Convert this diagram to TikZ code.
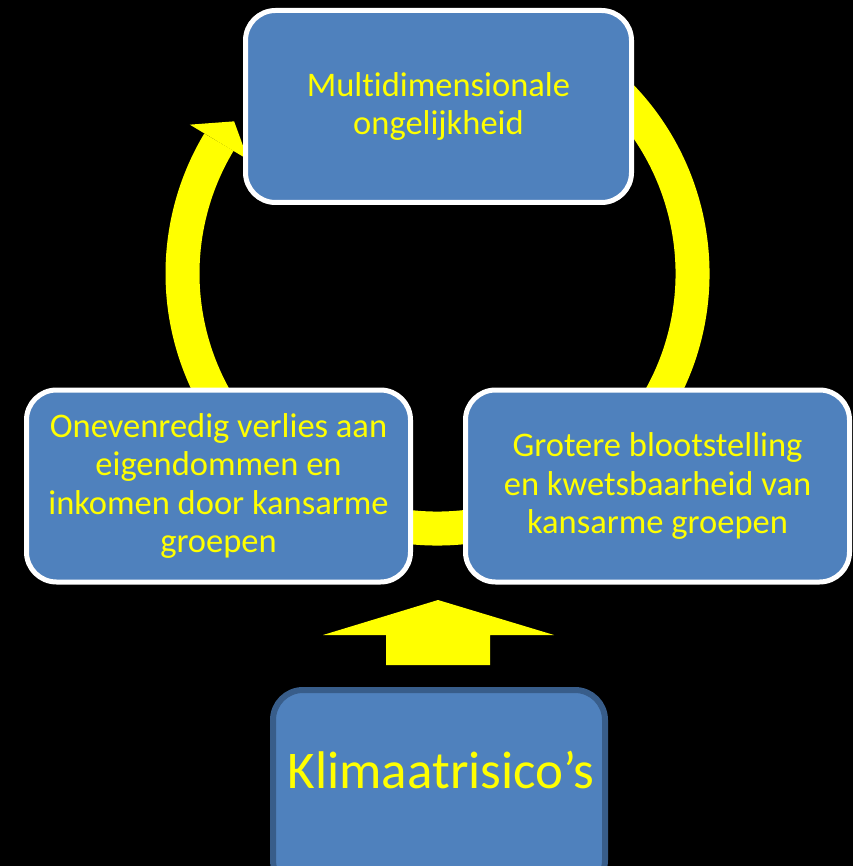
\documentclass[tikz,border=0pt]{standalone}
\usepackage{fontspec}
\setmainfont{Carlito}[Ligatures={NoCommon,NoContextual}]
\usetikzlibrary{calc}
\definecolor{boxblue}{HTML}{4F81BD}
\definecolor{boxedge}{HTML}{385D8A}
\definecolor{ylw}{HTML}{FFFF00}
\begin{document}
\begin{tikzpicture}[x=1pt,y=-1pt,
  cyclebox/.style={draw=white, line width=5pt, fill=boxblue, rounded corners=30pt,
    text=ylw, align=center, font=\fontsize{34.5}{38.3}\selectfont, inner sep=0pt},
  riskbox/.style={draw=boxedge, line width=6pt, fill=boxblue, rounded corners=30pt},
  ringline/.style={draw=ylw, line width=34pt},
  arrowfill/.style={fill=ylw}]
\useasboundingbox (0,0) rectangle (853,866);
\fill[black] (0,0) rectangle (853,866);
\clip (0,0) rectangle (853,866);
\coordinate (c) at (437.5,273.5);
% cycle ring
\draw[ringline] ($(c)+(-420:255)$) arc[start angle=420, end angle=149, radius=255pt];
\fill[arrowfill] ($(c)+(-149:289)$) -- ($(c)+(-143.2:254)$) -- ($(c)+(-149:221)$) -- cycle;
% boxes
\node[cyclebox, minimum width=386pt, minimum height=192pt] (top) at (438.5,106.5)
  {Multidimensionale\\ongelijkheid};
\node[cyclebox, minimum width=384pt, minimum height=192pt] (left) at (218.5,486)
  {Onevenredig verlies aan\\eigendommen en\\inkomen door kansarme\\groepen};
\node[cyclebox, minimum width=384pt, minimum height=192pt] (right) at (657.5,486)
  {Grotere blootstelling\\en kwetsbaarheid van\\kansarme groepen};
% bottom block arrow
\fill[arrowfill] (438,600) -- (554,635) -- (490,635) -- (490,665) -- (386,665) -- (386,635) -- (323,635) -- cycle;
% bottom box
\node[riskbox, minimum width=332pt, minimum height=200pt] (risk) at (439,790) {};
\node[text=ylw, font=\fontsize{53}{60}\selectfont, anchor=base, inner sep=0pt] (risktext) at (441,788) {Klimaatrisico’s};
\end{tikzpicture}
\end{document}
